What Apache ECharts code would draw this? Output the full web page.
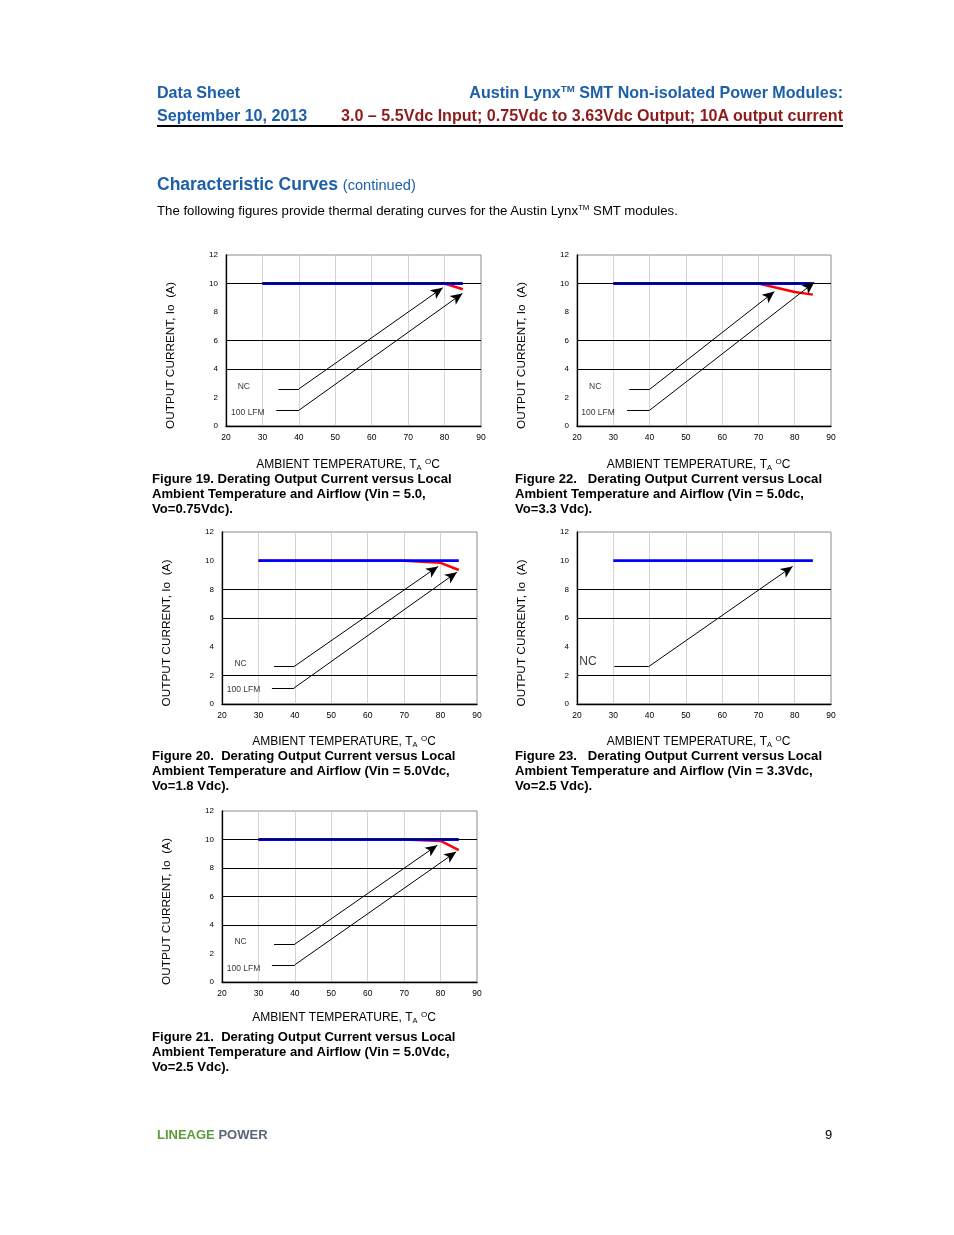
<!DOCTYPE html>
<html><head><meta charset="utf-8">
<script src="https://cdn.jsdelivr.net/npm/echarts@6/dist/echarts.min.js"></script>
<style>
html,body{margin:0;padding:0;background:#fff;}
#page{position:relative;width:954px;height:1235px;font-family:"Liberation Sans",Arial,sans-serif;}
#chart{position:absolute;left:0;top:0;width:954px;height:1235px;}
.t{position:absolute;white-space:nowrap;}
.blue{color:#1d5fa9;font-weight:bold;}
.red{color:#8e1b1b;font-weight:bold;}
.cap{position:absolute;font-weight:bold;font-size:13.1px;line-height:15px;color:#000;white-space:nowrap;}
sup{font-size:60%;vertical-align:0.6em;line-height:0;}
</style></head>
<body><div id="page">
<div id="chart"></div>
<div class="t blue" style="left:157px;top:83px;font-size:16.1px;">Data Sheet</div>
<div class="t blue" style="left:157px;top:106px;font-size:16.1px;">September 10, 2013</div>
<div class="t blue" style="right:111px;top:83px;font-size:16.1px;">Austin Lynx<sup>TM</sup> SMT Non-isolated Power Modules:</div>
<div class="t red" style="right:111px;top:106px;font-size:16.1px;">3.0 – 5.5Vdc Input; 0.75Vdc to 3.63Vdc Output; 10A output current</div>
<div style="position:absolute;left:157px;top:125px;width:686px;height:2px;background:#000;"></div>
<div class="t blue" style="left:157px;top:174px;font-size:17.5px;">Characteristic Curves <span style="font-weight:normal;font-size:14.6px;">(continued)</span></div>
<div class="t" style="left:157px;top:203px;font-size:13.2px;color:#000;">The following figures provide thermal derating curves for the Austin Lynx<sup>TM</sup> SMT modules.</div>
<div class="cap" style="left:152px;top:471px;">Figure 19. Derating Output Current versus Local<br>Ambient Temperature and Airflow (Vin = 5.0,<br>Vo=0.75Vdc).</div>
<div class="cap" style="left:515px;top:471px;">Figure 22.&nbsp;&nbsp; Derating Output Current versus Local<br>Ambient Temperature and Airflow (Vin = 5.0dc,<br>Vo=3.3 Vdc).</div>
<div class="cap" style="left:152px;top:748px;">Figure 20.&nbsp; Derating Output Current versus Local<br>Ambient Temperature and Airflow (Vin = 5.0Vdc,<br>Vo=1.8 Vdc).</div>
<div class="cap" style="left:515px;top:748px;">Figure 23.&nbsp;&nbsp; Derating Output Current versus Local<br>Ambient Temperature and Airflow (Vin = 3.3Vdc,<br>Vo=2.5 Vdc).</div>
<div class="cap" style="left:152px;top:1029px;">Figure 21.&nbsp; Derating Output Current versus Local<br>Ambient Temperature and Airflow (Vin = 5.0Vdc,<br>Vo=2.5 Vdc).</div>
<div class="t" style="left:157px;top:1127px;font-size:13px;font-weight:bold;"><span style="color:#5f9a3c;">LINEAGE</span> <span style="color:#5b6778;">POWER</span></div>
<div class="t" style="left:825px;top:1127px;font-size:13px;color:#000;">9</div>
</div>
<script>
// ---- data ----
const xMin = 20, xMax = 90, xStep = 10;
const yMin = 0, yMax = 12, yStep = 2;

const fig19Blue = [[30,10],[85,10]];
const fig19Red  = [[30,10],[80,10],[85,9.6]];
const fig19Grid = [10,6,4];
const fig19NC   = [[34.4,2.6],[40,2.6],[79.5,9.7]];
const fig19LFM  = [[33.8,1.1],[40,1.1],[84.9,9.3]];
const fig19Lbl  = [['NC',24.9,2.74],['100 LFM',26.0,0.91]];

const fig22Blue = [[30,10],[85,10]];
const fig22Red  = [[30,10],[70,10],[75,9.7],[80,9.4],[85,9.22]];
const fig22Grid = [10,6,4];
const fig22NC   = [[34.4,2.57],[40,2.57],[74.4,9.43]];
const fig22LFM  = [[33.8,1.1],[40,1.1],[85.4,10.08]];
const fig22Lbl  = [['NC',25.0,2.74],['100 LFM',25.8,0.91]];

const fig20Blue = [[30,10],[85,10]];
const fig20Red  = [[30,10],[70,10],[80,9.85],[85,9.35]];
const fig20Grid = [8,6,2];
const fig20NC   = [[34.3,2.6],[39.7,2.6],[79.3,9.6]];
const fig20LFM  = [[33.7,1.12],[39.8,1.12],[84.5,9.2]];
const fig20Lbl  = [['NC',25.1,2.79],['100 LFM',25.9,0.98]];

const fig23Blue = [[30,10],[85,10]];
const fig23Red  = [];
const fig23Grid = [8,6,2];
const fig23NC   = [[30.3,2.6],[39.7,2.6],[79.4,9.6]];
const fig23LFM  = null;
const fig23Lbl  = [['NC',23.0,2.95]];

const fig21Blue = [[30,10],[85,10]];
const fig21Red  = [[30,10],[70,10],[80,9.9],[85,9.25]];
const fig21Grid = [10,8,6,4];
const fig21NC   = [[34.3,2.66],[40,2.66],[79.1,9.6]];
const fig21LFM  = [[33.7,1.21],[40,1.21],[84.3,9.14]];
const fig21Lbl  = [['NC',25.1,2.83],['100 LFM',25.9,0.96]];

const xName = '{t|AMBIENT TEMPERATURE, T}{s|A}{t| }{u|O}{t|C}';
const yName = 'OUTPUT CURRENT, Io  (A)';

// ---- layout ----
const panels = [
  {box:{left:226,top:255,width:255,height:171}, gap:32, blue:fig19Blue, red:fig19Red, grid:fig19Grid, nc:fig19NC, lfm:fig19LFM, lbl:fig19Lbl, big:false},
  {box:{left:577,top:255,width:254,height:171}, gap:32, blue:fig22Blue, red:fig22Red, grid:fig22Grid, nc:fig22NC, lfm:fig22LFM, lbl:fig22Lbl, big:false},
  {box:{left:222,top:532,width:255,height:172}, gap:31, blue:fig20Blue, red:fig20Red, grid:fig20Grid, nc:fig20NC, lfm:fig20LFM, lbl:fig20Lbl, big:false},
  {box:{left:577,top:532,width:254,height:172}, gap:31, blue:fig23Blue, red:fig23Red, grid:fig23Grid, nc:fig23NC, lfm:fig23LFM, lbl:fig23Lbl, big:true},
  {box:{left:222,top:811,width:255,height:171}, gap:29, blue:fig21Blue, red:fig21Red, grid:fig21Grid, nc:fig21NC, lfm:fig21LFM, lbl:fig21Lbl, big:false}
];

const FONT = '"Liberation Sans", Arial, sans-serif';
const grids = [], xAxes = [], yAxes = [], series = [];

function arrowData(path){
  return [
    [{coord:path[0], symbol:'none'},{coord:path[1], symbol:'none'}],
    [{coord:path[1], symbol:'none'},{coord:path[2], symbol:'arrow', symbolSize:[8,12]}]
  ];
}

panels.forEach((p,i)=>{
  grids.push(Object.assign({show:true, borderColor:'#8a8a8a', borderWidth:1, backgroundColor:'transparent'}, p.box));
  xAxes.push({
    gridIndex:i, type:'value', min:xMin, max:xMax, interval:xStep,
    axisLine:{lineStyle:{color:'#000', width:1.3}}, axisTick:{show:false},
    axisLabel:{fontSize:8.5, color:'#000', margin:7, fontFamily:FONT},
    splitLine:{show:true, showMinLine:false, showMaxLine:false, lineStyle:{color:'#d4d4d4', width:1}},
    name:xName, nameLocation:'middle', nameGap:p.gap,
    nameTextStyle:{padding:[0,11,0,0], rich:{
      t:{fontSize:12, fontFamily:FONT, color:'#000', lineHeight:14},
      s:{fontSize:7.5, fontFamily:FONT, color:'#000', verticalAlign:'bottom', lineHeight:9},
      u:{fontSize:8, fontFamily:FONT, color:'#000', verticalAlign:'top', lineHeight:7}
    }}
  });
  yAxes.push({
    gridIndex:i, type:'value', min:yMin, max:yMax, interval:yStep,
    axisLine:{show:true, lineStyle:{color:'#000', width:1.3}}, axisTick:{show:false},
    axisLabel:{fontSize:8, color:'#000', margin:8, fontFamily:FONT},
    splitLine:{show:false},
    name:yName, nameLocation:'middle', nameRotate:90, nameGap:49,
    nameTextStyle:{fontSize:11.8, fontFamily:FONT, color:'#000', padding:[0,30,0,0]}
  });
  // horizontal grid lines
  series.push({
    type:'line', xAxisIndex:i, yAxisIndex:i, data:[], z:1, silent:true,
    markLine:{silent:true, symbol:'none', label:{show:false}, animation:false,
      lineStyle:{color:'#000', width:1, type:'solid'},
      emphasis:{disabled:true},
      data:p.grid.map(v=>({yAxis:v}))}
  });
  if(p.red.length){
    series.push({type:'line', xAxisIndex:i, yAxisIndex:i, data:p.red, z:2, symbol:'none', silent:true,
      lineStyle:{color:'#ff0000', width:2.5}, animation:false});
  }
  series.push({type:'line', xAxisIndex:i, yAxisIndex:i, data:p.blue, z:3, symbol:'none', silent:true,
    lineStyle:{color:'#0000ff', width:2.8}, animation:false});
  const ann = [].concat(arrowData(p.nc), p.lfm ? arrowData(p.lfm) : []);
  series.push({
    type:'line', xAxisIndex:i, yAxisIndex:i, data:[], z:4, silent:true,
    markLine:{silent:true, label:{show:false}, animation:false, symbolSize:[8,12],
      lineStyle:{color:'#000', width:1, type:'solid'}, emphasis:{disabled:true},
      data:ann}
  });
  series.push({
    type:'scatter', xAxisIndex:i, yAxisIndex:i, z:5, silent:true, symbolSize:0,
    data:p.lbl.map(l=>({value:[l[1],l[2]], name:l[0]})),
    label:{show:true, position:'inside', formatter:'{b}', color:'#000',
      fontSize:p.big?12:8.5, fontFamily:FONT}
  });
});

const chart = echarts.init(document.getElementById('chart'), null, {renderer:'canvas'});
chart.setOption({animation:false, grid:grids, xAxis:xAxes, yAxis:yAxes, series:series});
</script>
</body></html>
